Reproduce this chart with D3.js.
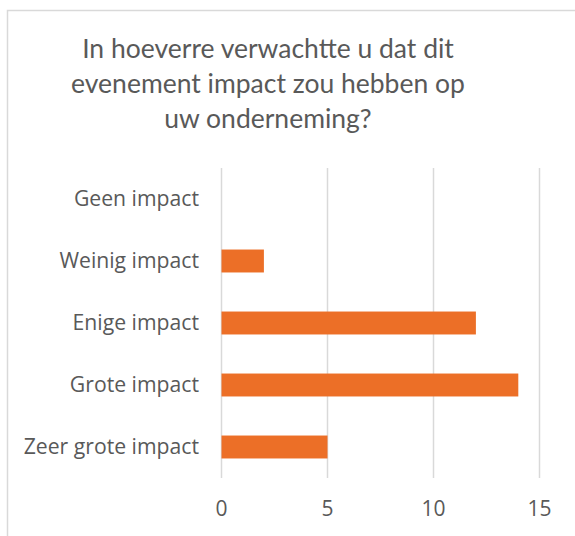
<!DOCTYPE html>
<html>
<head>
<meta charset="utf-8">
<script src="https://cdn.jsdelivr.net/npm/d3@7"></script>
<style>
  body { margin: 0; background: #fff; }
</style>
</head>
<body>
<svg class="svg"></svg>
<script>
const titleLines = ["In hoeverre verwachtte u dat dit", "evenement impact zou hebben op", "uw onderneming?"];
const categories = ["Geen impact", "Weinig impact", "Enige impact", "Grote impact", "Zeer grote impact"];
const values = [0, 2, 12, 14, 5];
const ticks = [0, 5, 10, 15];

const data = categories.map((c, i) => ({ name: c, value: values[i] }));

const width = 575, height = 536;

const svg = d3.select(".svg")
    .attr("width", width)
    .attr("height", height)
    .attr("font-family", "Lato, sans-serif");

// chart frame, runs off the right and bottom edges
svg.append("rect")
    .attr("x", 7.5)
    .attr("y", 10.5)
    .attr("width", 600)
    .attr("height", 600)
    .attr("fill", "#fff")
    .attr("stroke", "#d9d9d9")
    .attr("stroke-width", 1.5);

svg.append("text")
    .attr("x", 268)
    .attr("y", 58)
    .attr("text-anchor", "middle")
    .attr("fill", "#595959")
    .attr("font-size", 26.5)
    .selectAll("tspan")
    .data(titleLines)
    .join("tspan")
    .attr("x", 268)
    .attr("dy", (d, i) => i === 0 ? 0 : 35)
    .text(d => d);

x = d3.scaleLinear()
    .domain([0, 15])
    .range([221.5, 539.5])

y = d3.scaleBand()
    .domain(categories)
    .range([168, 478])
    .paddingInner(0.63)
    .paddingOuter(0.315)

svg.append("g")
    .selectAll("line")
    .data(ticks)
    .join("line")
    .attr("x1", d => x(d))
    .attr("x2", d => x(d))
    .attr("y1", 168)
    .attr("y2", 478)
    .attr("stroke", "#d9d9d9")
    .attr("stroke-width", 1.5);

svg.append("g")
    .selectAll("rect")
    .data(data)
    .join("rect")
    .attr("x", x(0))
    .attr("y", d => y(d.name))
    .attr("width", d => x(d.value) - x(0))
    .attr("height", y.bandwidth())
    .attr("fill", "#ec6f27");

svg.append("g")
    .attr("font-family", "'Open Sans', sans-serif")
    .attr("font-size", 21.2)
    .attr("fill", "#595959")
    .attr("text-anchor", "end")
    .selectAll("text")
    .data(categories)
    .join("text")
    .attr("x", 199)
    .attr("y", d => y(d) + y.bandwidth() / 2)
    .attr("dy", "0.35em")
    .text(d => d);

svg.append("g")
    .attr("font-family", "'Open Sans', sans-serif")
    .attr("font-size", 21)
    .attr("fill", "#595959")
    .attr("text-anchor", "middle")
    .selectAll("text")
    .data(ticks)
    .join("text")
    .attr("x", d => x(d))
    .attr("y", 509)
    .attr("dy", "0.35em")
    .text(d => d);
</script>
</body>
</html>
